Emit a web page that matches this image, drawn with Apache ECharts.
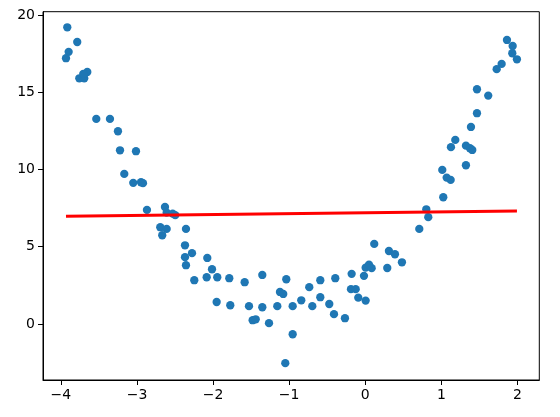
<!DOCTYPE html>
<html>
<head>
<meta charset="utf-8">
<script src="https://cdn.jsdelivr.net/npm/echarts@6/dist/echarts.min.js"></script>
<style>html,body{margin:0;padding:0;background:#fff}#c{width:560px;height:417px}</style>
</head>
<body>
<div id="c"></div>
<script>
const pointsX = [-3.916,-3.785,-3.898,-3.933,-3.653,-3.758,-3.693,-3.706,-3.535,-3.355,
-3.250,-3.223,-3.013,-3.167,-3.049,-2.947,-2.921,-2.869,-2.632,-2.610,
-2.531,-2.497,-2.694,-2.610,-2.668,-2.356,-2.369,-2.369,-2.277,-2.356,
-2.076,-2.014,-2.084,-1.945,-2.247,-1.787,-1.953,-1.774,-1.585,-1.353,
-1.528,-1.353,-1.480,-1.440,-1.265,-1.156,-1.121,-1.078,-1.038,-0.954,
-0.954,-1.051,-0.841,-0.736,-0.696,-0.591,-0.591,-0.473,-0.394,-0.411,
-0.267,-0.179,-0.188,-0.126,-0.092,0.005,-0.017,0.005,0.049,0.084,
0.118,0.311,0.390,0.482,0.289,0.710,0.802,0.828,1.025,1.012,
1.070,1.122,1.323,1.126,1.183,1.323,1.376,1.406,1.389,1.468,
1.468,1.616,1.727,1.792,1.862,1.937,1.932,1.993];
const pointsY = [19.20,18.25,17.61,17.20,16.31,15.90,15.90,16.18,13.27,13.27,
12.47,11.24,11.18,9.71,9.13,9.17,9.11,7.38,7.57,7.20,
7.14,7.04,6.26,6.15,5.74,6.15,5.09,4.32,4.58,3.80,
4.27,3.54,3.02,3.02,2.83,2.96,1.42,1.21,2.70,3.17,
1.15,1.08,0.24,0.30,0.05,1.15,2.07,1.94,2.89,1.15,
-0.67,-2.54,1.53,2.38,1.15,2.83,1.73,1.29,2.96,0.63,
0.37,3.24,2.25,2.25,1.70,1.51,3.11,3.64,3.84,3.61,
5.18,4.72,4.51,3.99,3.62,6.15,7.42,6.91,8.20,9.97,
9.47,9.32,10.27,11.44,11.91,11.54,11.37,11.26,12.75,13.64,
15.19,14.78,16.49,16.83,18.38,17.99,17.52,17.13];
const fitX = [-3.933, 1.993];
const fitY = [6.97, 7.31];
const xTicks = [-4,-3,-2,-1,0,1,2];
const yTicks = [0,5,10,15,20];

const fmt = v => String(v).replace('-', '\u2212');
const scatterData = pointsX.map((x,i)=>[x, pointsY[i]]);
const lineData = fitX.map((x,i)=>[x, fitY[i]]);

const axisCommon = {
  type: 'value',
  splitLine: {show:false},
  axisLine: {show:true, onZero:false, lineStyle:{color:'#000', width:1}},
  axisTick: {show:true, inside:false, length:5, lineStyle:{color:'#000', width:1}},
  axisLabel: {color:'#000', fontSize:14, fontFamily:'DejaVu Sans', margin:8, formatter: fmt}
};

const chart = echarts.init(document.getElementById('c'), null, {renderer:'canvas'});
chart.setOption({
  animation: false,
  backgroundColor: '#fff',
  grid: {left:43, right:20.7, top:11.7, bottom:37, show:true, borderColor:'#000', borderWidth:1, backgroundColor:'transparent'},
  xAxis: Object.assign({}, axisCommon, {
    min: -4.235, max: 2.287,
    axisTick: Object.assign({}, axisCommon.axisTick, {customValues: xTicks}),
    axisLabel: Object.assign({}, axisCommon.axisLabel, {customValues: xTicks})
  }),
  yAxis: Object.assign({}, axisCommon, {
    min: -3.63, max: 20.21,
    axisTick: Object.assign({}, axisCommon.axisTick, {customValues: yTicks}),
    axisLabel: Object.assign({}, axisCommon.axisLabel, {customValues: yTicks})
  }),
  series: [
    {type:'scatter', data: scatterData, symbolSize: 8.3, itemStyle:{color:'#1f77b4', opacity:1}, z:2},
    {type:'line', data: lineData, symbol:'none', lineStyle:{color:'#ff0000', width:3}, z:3}
  ]
});
</script>
</body>
</html>
